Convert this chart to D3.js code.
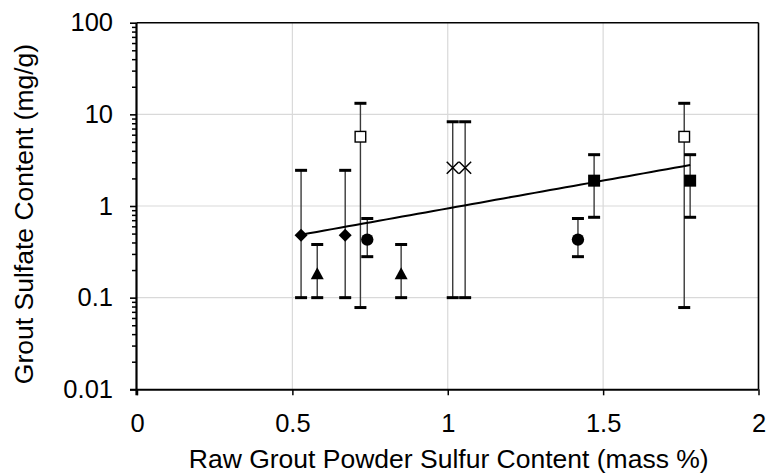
<!DOCTYPE html>
<html>
<head>
<meta charset="utf-8">
<script src="https://cdn.jsdelivr.net/npm/d3@7"></script>
<style>
  html, body { margin: 0; padding: 0; background: #fff; }
  svg { display: block; font-family: "Liberation Sans", Arial, sans-serif; }
</style>
</head>
<body>
<svg id="chart" width="766" height="474"></svg>
<script>
// ---- Data ----
const diamondX = [0.528, 0.670];
const diamondY = [0.48, 0.48];
const diamondLo = [0.10, 0.10];
const diamondHi = [2.45, 2.45];

const triangleX = [0.580, 0.850];
const triangleY = [0.18, 0.18];
const triangleLo = [0.10, 0.10];
const triangleHi = [0.38, 0.38];

const openSquareX = [0.719, 1.761];
const openSquareY = [5.7, 5.7];
const openSquareLo = [0.078, 0.078];
const openSquareHi = [13.2, 13.2];

const circleX = [0.741, 1.419];
const circleY = [0.43, 0.43];
const circleLo = [0.28, 0.28];
const circleHi = [0.73, 0.73];

const crossX = [1.016, 1.056];
const crossY = [2.62, 2.62];
const crossLo = [0.10, 0.10];
const crossHi = [8.3, 8.3];

const filledSquareX = [1.471, 1.780];
const filledSquareY = [1.89, 1.89];
const filledSquareLo = [0.753, 0.753];
const filledSquareHi = [3.63, 3.63];

const xTicks = [0, 0.5, 1, 1.5, 2];
const xTickLabels = ["0", "0.5", "1", "1.5", "2"];
const yTicks = [0.01, 0.1, 1, 10, 100];
const yTickLabels = ["0.01", "0.1", "1", "10", "100"];
const xTitle = "Raw Grout Powder Sulfur Content (mass %)";
const yTitle = "Grout Sulfate Content (mg/g)";

// ---- Layout ----
const W = 766, H = 474;
const m = { left: 137, top: 22.7, right: 7.5, bottom: 84.7 };
const svg = d3.select("#chart");
const x = d3.scaleLinear().domain([0, 2]).range([m.left, W - m.right]);
const y = d3.scaleLog().domain([0.01, 100]).range([H - m.bottom, m.top]);

const series = [
  { type: "diamond", xs: diamondX, ys: diamondY, lo: diamondLo, hi: diamondHi },
  { type: "triangle", xs: triangleX, ys: triangleY, lo: triangleLo, hi: triangleHi },
  { type: "openSquare", xs: openSquareX, ys: openSquareY, lo: openSquareLo, hi: openSquareHi },
  { type: "circle", xs: circleX, ys: circleY, lo: circleLo, hi: circleHi },
  { type: "cross", xs: crossX, ys: crossY, lo: crossLo, hi: crossHi },
  { type: "filledSquare", xs: filledSquareX, ys: filledSquareY, lo: filledSquareLo, hi: filledSquareHi }
];
const points = [];
series.forEach(s => s.xs.forEach((v, i) => points.push({ type: s.type, x: v, y: s.ys[i], lo: s.lo[i], hi: s.hi[i] })));

// ---- Gridlines ----
const grid = svg.append("g").attr("stroke", "#d9d9d9").attr("stroke-width", 1.2);
grid.selectAll("line.h").data(yTicks.slice(1, -1)).join("line")
  .attr("x1", x(0)).attr("x2", x(2))
  .attr("y1", d => y(d)).attr("y2", d => y(d));
grid.selectAll("line.v").data(xTicks.slice(1, -1)).join("line")
  .attr("y1", y(0.01)).attr("y2", y(100))
  .attr("x1", d => x(d)).attr("x2", d => x(d));

// ---- Frame (top & right) ----
svg.append("line").attr("x1", x(0)).attr("x2", x(2)).attr("y1", y(100)).attr("y2", y(100))
  .attr("stroke", "#000").attr("stroke-width", 1.6);
svg.append("line").attr("x1", x(2)).attr("x2", x(2)).attr("y1", y(100)).attr("y2", y(0.01))
  .attr("stroke", "#000").attr("stroke-width", 1.6);

// ---- Axes ----
const xAxis = d3.axisBottom(x).tickValues(xTicks).tickSize(6).tickPadding(19)
  .tickFormat((d, i) => xTickLabels[i]);
const gx = svg.append("g").attr("transform", `translate(0,${y(0.01)})`).call(xAxis);
gx.select(".domain").attr("stroke-width", 2).attr("d", `M${x(0) - 7},0.5H${x(2)}`);
gx.selectAll(".tick line").attr("stroke-width", 1.5);
gx.selectAll("text").attr("font-size", 25.5).attr("fill", "#000");

const minor = [];
for (let e = -2; e < 2; e++) for (let k = 2; k <= 9; k++) minor.push(k * Math.pow(10, e));
const gyMinor = svg.append("g").attr("transform", `translate(${x(0)},0)`)
  .call(d3.axisLeft(y).tickValues(minor).tickSize(5).tickFormat(""));
gyMinor.select(".domain").remove();
gyMinor.selectAll(".tick line").attr("stroke-width", 1.5);

const yAxis = d3.axisLeft(y).tickValues(yTicks).tickSize(7).tickPadding(17)
  .tickFormat((d, i) => yTickLabels[i]);
const gy = svg.append("g").attr("transform", `translate(${x(0)},0)`).call(yAxis);
gy.select(".domain").attr("stroke-width", 2.2).attr("d", `M-0.5,${y(100)}V${y(0.01) + 6}`);
gy.selectAll(".tick line").attr("stroke-width", 1.6);
gy.selectAll("text").attr("font-size", 25.5).attr("fill", "#000");

// ---- Titles ----
svg.append("text").attr("x", (x(0) + x(2)) / 2 + 1).attr("y", 468)
  .attr("text-anchor", "middle").attr("font-size", 26.5).text(xTitle);
svg.append("text").attr("transform", `translate(33,${(y(0.01) + y(100)) / 2 + 8}) rotate(-90)`)
  .attr("text-anchor", "middle").attr("font-size", 26.5).text(yTitle);

// ---- Error bars ----
const eb = svg.append("g");
eb.selectAll("line.stem").data(points).join("line")
  .attr("x1", d => x(d.x)).attr("x2", d => x(d.x))
  .attr("y1", d => y(d.lo)).attr("y2", d => y(d.hi))
  .attr("stroke", "#3a3a3a").attr("stroke-width", 1.4);
const caps = [];
points.forEach(p => { caps.push({ x: p.x, v: p.lo }); caps.push({ x: p.x, v: p.hi }); });
eb.selectAll("line.cap").data(caps).join("line")
  .attr("x1", d => x(d.x) - 6).attr("x2", d => x(d.x) + 6)
  .attr("y1", d => y(d.v)).attr("y2", d => y(d.v))
  .attr("stroke", "#000").attr("stroke-width", 3);

// ---- Trendline (exponential least-squares fit) ----
const lx = points.map(p => p.x), ly = points.map(p => Math.log(p.y));
const mx = d3.mean(lx), my = d3.mean(ly);
const b = d3.sum(lx.map((v, i) => (v - mx) * (ly[i] - my))) / d3.sum(lx.map(v => (v - mx) ** 2));
const a = my - b * mx;
const [x0, x1] = d3.extent(lx);
const trend = d3.range(0, 51).map(i => x0 + (x1 - x0) * i / 50).map(v => [v, Math.exp(a + b * v)]);
svg.append("path").datum(trend)
  .attr("d", d3.line().x(d => x(d[0])).y(d => y(d[1])))
  .attr("fill", "none").attr("stroke", "#000").attr("stroke-width", 2);

// ---- Markers ----
const mk = svg.append("g");
points.forEach(p => {
  const g = mk.append("g").attr("transform", `translate(${x(p.x)},${y(p.y)})`);
  if (p.type === "diamond") {
    g.append("path").attr("d", "M0,-6.5L6.5,0L0,6.5L-6.5,0Z").attr("fill", "#000");
  } else if (p.type === "triangle") {
    g.append("path").attr("d", "M0,-7L6.5,5L-6.5,5Z").attr("fill", "#000");
  } else if (p.type === "circle") {
    g.append("circle").attr("r", 6.2).attr("fill", "#000");
  } else if (p.type === "filledSquare") {
    g.append("rect").attr("x", -6).attr("y", -6).attr("width", 12).attr("height", 12).attr("fill", "#000");
  } else if (p.type === "openSquare") {
    g.append("rect").attr("x", -5.3).attr("y", -5.3).attr("width", 10.6).attr("height", 10.6)
      .attr("fill", "#fff").attr("stroke", "#000").attr("stroke-width", 1.4);
  } else if (p.type === "cross") {
    g.append("path").attr("d", "M-6,-6L6,6M-6,6L6,-6").attr("stroke", "#000").attr("stroke-width", 1.5);
  }
});
</script>
</body>
</html>
